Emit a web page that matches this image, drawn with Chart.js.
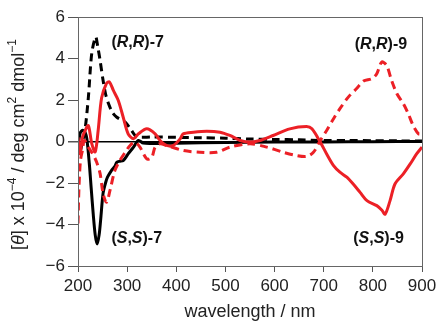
<!DOCTYPE html>
<html>
<head>
<meta charset="utf-8">
<script src="https://cdn.jsdelivr.net/npm/chart.js@4.4.1/dist/chart.umd.min.js"></script>
<style>
  html, body { margin: 0; padding: 0; background: #fff; }
  #cdChart { display: block; }
</style>
</head>
<body>
<canvas id="cdChart" width="441" height="323"></canvas>
<script>
// CD spectra, [theta] x 10^-4 / deg cm2 dmol-1 vs wavelength (nm)
const rr7Wavelength = [200, 204, 209, 214, 221, 228, 236, 240, 245, 251, 256, 262, 270, 279, 296, 309, 319, 330, 350, 400, 450, 500, 550, 600, 650, 700, 750, 800, 850, 900];
const rr7Theta      = [0.1, -0.5, 0.0, 0.5, 2.1, 4.25, 5.04, 4.6, 3.9, 2.95, 2.3, 1.83, 1.4, 1.17, 0.93, 0.53, 0.22, 0.2, 0.22, 0.2, 0.18, 0.16, 0.12, 0.1, 0.08, 0.05, 0.05, 0.04, 0.03, 0.03];

const ss7Wavelength = [200, 204, 207, 211, 215, 218, 223, 227, 231, 235, 239, 243, 246, 251, 256, 260, 268, 275, 279, 285, 292, 302, 313, 323, 333, 350, 400, 500, 600, 700, 800, 900];
const ss7Theta      = [-0.2, 0.37, 0.5, 0.53, 0.4, 0.14, -1.06, -2.3, -3.5, -4.5, -4.94, -4.5, -3.8, -2.5, -2.0, -1.72, -1.4, -1.2, -1.0, -0.95, -0.92, -0.6, -0.27, 0.05, -0.08, -0.1, -0.08, -0.05, -0.03, -0.02, -0.01, 0.0];

const ss9Wavelength = [200, 204, 209, 214, 221, 228, 235, 241, 248, 258, 264, 272, 282, 292, 302, 313, 323, 340, 357, 367, 380, 394, 408, 414, 435, 462, 489, 509, 530, 550, 570, 597, 631, 665, 676, 693, 706, 720, 733, 747, 760, 774, 788, 808, 818, 825, 835, 845, 862, 876, 889, 900];
const ss9Theta      = [0.2, -0.6, 0.2, 0.5, 0.77, -0.1, -0.5, 0.53, 2.1, 2.8, 2.87, 2.46, 1.98, 1.17, 0.37, 0.13, 0.37, 0.61, 0.37, 0.05, -0.19, -0.19, 0.13, 0.37, 0.45, 0.5, 0.45, 0.29, 0.05, -0.03, 0.05, 0.29, 0.61, 0.72, 0.61, -0.03, -0.6, -1.16, -1.48, -1.72, -2.05, -2.45, -2.85, -3.09, -3.3, -3.5, -2.85, -2.05, -1.56, -1.08, -0.6, -0.27];

const rr9Wavelength = [200, 202, 205, 209, 213, 221, 230, 238, 245, 251, 258, 265, 275, 285, 296, 306, 316, 326, 340, 350, 357, 367, 380, 414, 448, 482, 509, 550, 584, 618, 645, 665, 679, 693, 706, 720, 733, 750, 767, 781, 798, 808, 818, 828, 838, 849, 862, 872, 882, 893, 900];
const rr9Theta      = [-3.95, -2.2, -0.92, -0.43, 0.05, -0.27, -0.6, -1.0, -1.55, -2.5, -2.93, -2.37, -1.4, -0.92, -0.52, -0.19, -0.03, -0.27, -0.84, -0.76, -0.27, -0.11, -0.19, -0.43, -0.52, -0.52, -0.27, -0.11, -0.27, -0.52, -0.68, -0.72, -0.52, 0.05, 0.53, 1.1, 1.58, 2.14, 2.55, 2.91, 3.03, 3.27, 3.83, 3.67, 2.95, 2.3, 1.82, 1.34, 0.77, 0.37, 0.37];

const yTicks = [-6, -4, -2, 0, 2, 4, 6];
const xTicks = [200, 300, 400, 500, 600, 700, 800, 900];

const RED = 'rgb(236, 32, 38)';
const FONT = '"Liberation Sans", Arial, sans-serif';

function toPoints(xs, ys) {
  return xs.map((x, i) => ({ x: x, y: ys[i] }));
}

// compound labels, anchored at data coordinates
const seriesLabels = [
  { x: 268, y: 4.75, parts: ['(', 'R', ',', 'R', ')-7'] },
  { x: 268, y: -4.68, parts: ['(', 'S', ',', 'S', ')-7'] },
  { x: 763, y: 4.67, parts: ['(', 'R', ',', 'R', ')-9'] },
  { x: 760, y: -4.68, parts: ['(', 'S', ',', 'S', ')-9'] }
];

// y title pieces: text, italic, superscript
const yTitleParts = [
  ['[', false, false], ['θ', true, false], ['] x 10', false, false], ['−4', false, true],
  [' / deg cm', false, false], ['2', false, true], [' dmol', false, false], ['−1', false, true]
];

const extrasPlugin = {
  id: 'extras',
  afterDraw(chart) {
    const ctx = chart.ctx;
    const area = chart.chartArea;
    const xs = chart.scales.x, ys = chart.scales.y;
    ctx.save();

    // frame
    ctx.strokeStyle = '#666';
    ctx.lineWidth = 1;
    ctx.strokeRect(area.left + 0.5, area.top + 0.5, area.right - area.left, area.bottom - area.top);

    // series labels
    ctx.fillStyle = '#111';
    ctx.textBaseline = 'middle';
    ctx.textAlign = 'left';
    seriesLabels.forEach(lab => {
      let px = xs.getPixelForValue(lab.x);
      const py = ys.getPixelForValue(lab.y);
      lab.parts.forEach((p, i) => {
        ctx.font = (i === 1 || i === 3 ? 'italic ' : '') + 'bold 16px ' + FONT;
        ctx.fillText(p, px, py);
        px += ctx.measureText(p).width;
      });
    });

    // y axis title, rotated
    const size = 18;
    ctx.translate(19, (area.top + area.bottom) / 2 + 3);
    ctx.rotate(-Math.PI / 2);
    let total = 0;
    yTitleParts.forEach(([t, it, sup]) => {
      ctx.font = (it ? 'italic ' : '') + (sup ? Math.round(size * 0.65) : size) + 'px ' + FONT;
      total += ctx.measureText(t).width;
    });
    let cx = -total / 2;
    ctx.fillStyle = '#222';
    yTitleParts.forEach(([t, it, sup]) => {
      ctx.font = (it ? 'italic ' : '') + (sup ? Math.round(size * 0.65) : size) + 'px ' + FONT;
      ctx.fillText(t, cx, sup ? -6 : 0);
      cx += ctx.measureText(t).width;
    });
    ctx.restore();
  }
};

new Chart(document.getElementById('cdChart').getContext('2d'), {
  type: 'line',
  data: {
    datasets: [
      {
        label: '(S,S)-9',
        data: toPoints(ss9Wavelength, ss9Theta),
        borderColor: RED,
        borderWidth: 3,
        tension: 0.3
      },
      {
        label: '(R,R)-9',
        data: toPoints(rr9Wavelength, rr9Theta),
        borderColor: RED,
        borderWidth: 3,
        borderDash: [8, 5],
        tension: 0.3
      },
      {
        label: '(R,R)-7',
        data: toPoints(rr7Wavelength, rr7Theta),
        borderColor: '#000',
        borderWidth: 3,
        borderDash: [8, 5],
        tension: 0.3
      },
      {
        label: '(S,S)-7',
        data: toPoints(ss7Wavelength, ss7Theta),
        borderColor: '#000',
        borderWidth: 3,
        tension: 0.3
      }
    ]
  },
  options: {
    responsive: false,
    animation: false,
    devicePixelRatio: 1,
    layout: { padding: { top: 17, right: 19, left: 0, bottom: 0 } },
    elements: { point: { radius: 0 } },
    plugins: {
      legend: { display: false },
      tooltip: { enabled: false }
    },
    scales: {
      x: {
        type: 'linear',
        min: 200,
        max: 900,
        afterBuildTicks: (s) => { s.ticks = xTicks.map(v => ({ value: v })); },
        afterFit: (s) => { s.height = 57; },
        ticks: { color: '#222', font: { family: FONT, size: 17 }, padding: 4, maxRotation: 0 },
        grid: { drawOnChartArea: false, tickLength: 6, tickColor: '#555' },
        border: { color: '#666' },
        title: {
          display: true,
          text: 'wavelength / nm',
          color: '#222',
          font: { family: FONT, size: 18 },
          padding: { top: 0, bottom: 0 }
        }
      },
      y: {
        min: -6,
        max: 6,
        afterBuildTicks: (s) => { s.ticks = yTicks.map(v => ({ value: v })); },
        afterFit: (s) => { s.width = 78; },
        ticks: {
          color: '#222',
          font: { family: FONT, size: 17 },
          padding: 3,
          callback: (v) => (v < 0 ? '\u2212' + Math.abs(v) : String(v))
        },
        grid: {
          tickLength: 10,
          tickColor: '#555',
          color: (c) => (c.tick && c.tick.value === 0 ? '#000' : 'rgba(0,0,0,0)'),
          lineWidth: (c) => (c.tick && c.tick.value === 0 ? 1.5 : 1)
        },
        border: { color: '#666' }
      }
    }
  },
  plugins: [extrasPlugin]
});
</script>
</body>
</html>
